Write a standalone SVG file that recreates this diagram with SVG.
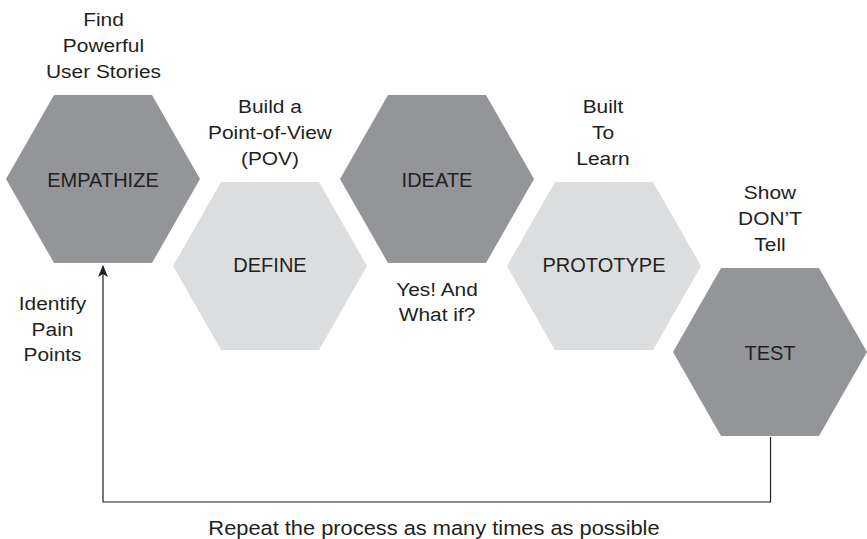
<svg xmlns="http://www.w3.org/2000/svg" width="867" height="539" viewBox="0 0 867 539">
  <defs>
    <!-- regular hexagon, pointy left/right, centred on the origin -->
    <polygon id="hex" points="-97,0 -49,-84 49,-84 97,0 49,84 -49,84"/>
    <marker id="arrow" viewBox="0 0 12 10" refX="11" refY="5" markerWidth="12" markerHeight="10" markerUnits="userSpaceOnUse" orient="auto">
      <path d="M0,0 L12,5 L0,10 L3,5 Z" fill="#231f20"/>
    </marker>
  </defs>
  <style>
    .dark { fill: #939598; }
    .light { fill: #dcddde; }
    text { font-family: "Liberation Sans", Arial, Helvetica, sans-serif; fill: #231f20; text-anchor: middle; }
    .stage { font-size: 20px; }
    .note { font-size: 19px; transform-box: fill-box; transform-origin: center; transform: scaleX(1.1); }
    .caption { font-size: 19.5px; transform-box: fill-box; transform-origin: center; transform: scaleX(1.12); }
    .link { fill: none; stroke: #231f20; stroke-width: 1.2; }
  </style>
  <rect width="867" height="539" fill="#ffffff"/>

  <!-- stages -->
  <g id="empathize">
    <use href="#hex" class="dark" transform="translate(103,179)"/>
    <text class="stage" x="103" y="187">EMPATHIZE</text>
  </g>
  <g id="define">
    <use href="#hex" class="light" transform="translate(270,266)"/>
    <text class="stage" x="270" y="272">DEFINE</text>
  </g>
  <g id="ideate">
    <use href="#hex" class="dark" transform="translate(437,179)"/>
    <text class="stage" x="437" y="187">IDEATE</text>
  </g>
  <g id="prototype">
    <use href="#hex" class="light" transform="translate(604,266)"/>
    <text class="stage" x="604" y="272">PROTOTYPE</text>
  </g>
  <g id="test">
    <use href="#hex" class="dark" transform="translate(770,352)"/>
    <text class="stage" x="770" y="360">TEST</text>
  </g>

  <!-- notes beside each stage -->
  <g id="note-empathize">
    <text class="note" x="103.5" y="26">Find</text>
    <text class="note" x="103.5" y="52.5">Powerful</text>
    <text class="note" x="103.5" y="78">User Stories</text>
  </g>
  <g id="note-define">
    <text class="note" x="270" y="113">Build a</text>
    <text class="note" x="270" y="139">Point-of-View</text>
    <text class="note" x="270" y="165">(POV)</text>
  </g>
  <g id="note-ideate">
    <text class="note" x="437" y="296">Yes! And</text>
    <text class="note" x="437" y="321.5">What if?</text>
  </g>
  <g id="note-prototype">
    <text class="note" x="603" y="113">Built</text>
    <text class="note" x="603" y="139">To</text>
    <text class="note" x="603" y="165">Learn</text>
  </g>
  <g id="note-test">
    <text class="note" x="770" y="199">Show</text>
    <text class="note" x="770" y="225">DON’T</text>
    <text class="note" x="770" y="251">Tell</text>
  </g>
  <g id="note-loop">
    <text class="note" x="52.5" y="310.5">Identify</text>
    <text class="note" x="52.5" y="336">Pain</text>
    <text class="note" x="52.5" y="361.5">Points</text>
  </g>

  <!-- feedback loop from TEST back to EMPATHIZE -->
  <g id="connectors">
    <path class="link" d="M770.5,437 V502 H103 V266" marker-end="url(#arrow)"/>
  </g>
  <text class="caption" x="434" y="535">Repeat the process as many times as possible</text>
</svg>
